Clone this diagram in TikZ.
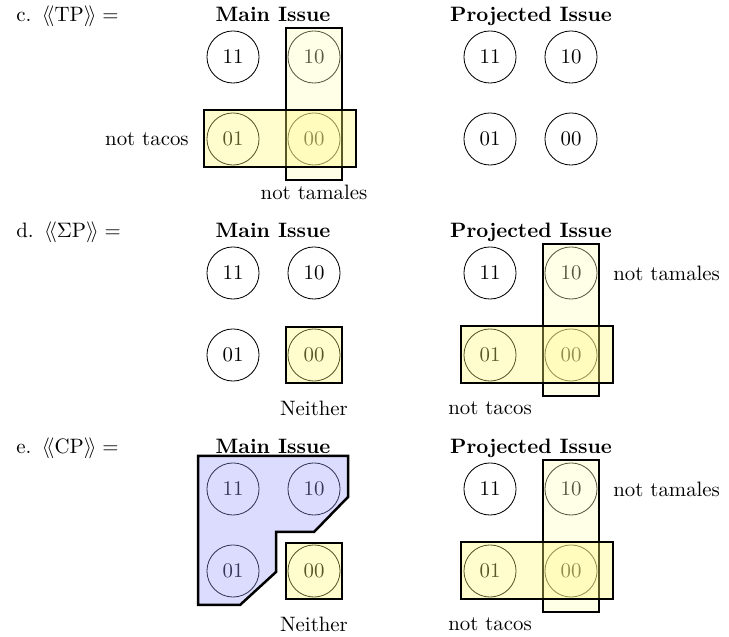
\documentclass[tikz,border=0pt]{standalone}
\usepackage{amsmath}
\tikzset{
  world/.style={draw, circle, minimum size=25pt, inner sep=0pt},
  lightbox/.style={draw=black, very thick, fill=yellow!28, fill opacity=0.35},
  darkbox/.style={draw=black, very thick, fill=yellow!56, fill opacity=0.35},
  bluebox/.style={draw=black, very thick, fill=blue!39, fill opacity=0.35},
  title/.style={anchor=base, font=\bfseries},
}
% the four worlds 11, 10, 01, 00 of one issue, upper left world at (#2,#3)
\def\worlds(#1)(#2,#3){
  \node[world] (#1-11) at (#2, #3) {11};
  \node[world] (#1-10) at (#2+81, #3) {10};
  \node[world] (#1-01) at (#2, #3+82) {01};
  \node[world] (#1-00) at (#2+81, #3+82) {00};
}

\begin{document}
\begin{tikzpicture}[x=0.48pt, y=-0.48pt]
		\useasboundingbox (0, 0) rectangle (729, 637);
		
		%%%%% c %%%%%
		\node[anchor=base west] (labc) at (9, 22) {c.\enspace$\langle\!\langle\mathrm{TP}\rangle\!\rangle =$};
		\node[title] (mainc) at (273, 22) {Main Issue};
		\node[title] (projc) at (531, 22) {Projected Issue};
		
		\worlds(cm)(233, 57)
		\worlds(cp)(490, 57)
		
		\draw[lightbox] (286, 28) rectangle (342, 180);
		\draw[darkbox] (204, 110) rectangle (356, 167);
		
		\node[anchor=east] (tacosc) at (196, 139) {not tacos};
		\node (tamalesc) at (314, 192) {not tamales};
		
		%%%%% d %%%%%
		\node[anchor=base west] (labd) at (9, 238) {d.\enspace$\langle\!\langle\Sigma\mathrm{P}\rangle\!\rangle =$};
		\node[title] (maind) at (273, 238) {Main Issue};
		\node[title] (projd) at (531, 238) {Projected Issue};
		
		\worlds(dm)(233, 273)
		\worlds(dp)(490, 273)
		
		\draw[darkbox] (286, 327) rectangle (342, 383);
		\node (neitherd) at (314, 408) {Neither};
		
		\draw[lightbox] (543, 244) rectangle (599, 396);
		\draw[darkbox] (461, 326) rectangle (613, 383);
		
		\node[anchor=west] (tamalesd) at (606, 273) {not tamales};
		\node (tacosd) at (490, 408) {not tacos};
		
		%%%%% e %%%%%
		\node[anchor=base west] (labe) at (9, 454) {e.\enspace$\langle\!\langle\mathrm{CP}\rangle\!\rangle =$};
		\node[title] (maine) at (273, 454) {Main Issue};
		\node[title] (proje) at (531, 454) {Projected Issue};
		
		\worlds(em)(233, 489)
		\worlds(ep)(490, 489)
		
		\draw[bluebox] (198, 456) -- (348, 456) -- (348, 497) -- (314, 532) -- (276, 532)
			-- (276, 572) -- (240, 605) -- (198, 605) -- cycle;
		\draw[darkbox] (286, 543) rectangle (342, 599);
		\node (neithere) at (314, 624) {Neither};
		
		\draw[lightbox] (543, 460) rectangle (599, 612);
		\draw[darkbox] (461, 542) rectangle (613, 599);
		
		\node[anchor=west] (tamalese) at (606, 489) {not tamales};
		\node (tacose) at (490, 624) {not tacos};
		
		%%%%% END %%%%%
	\end{tikzpicture}
\end{document}
